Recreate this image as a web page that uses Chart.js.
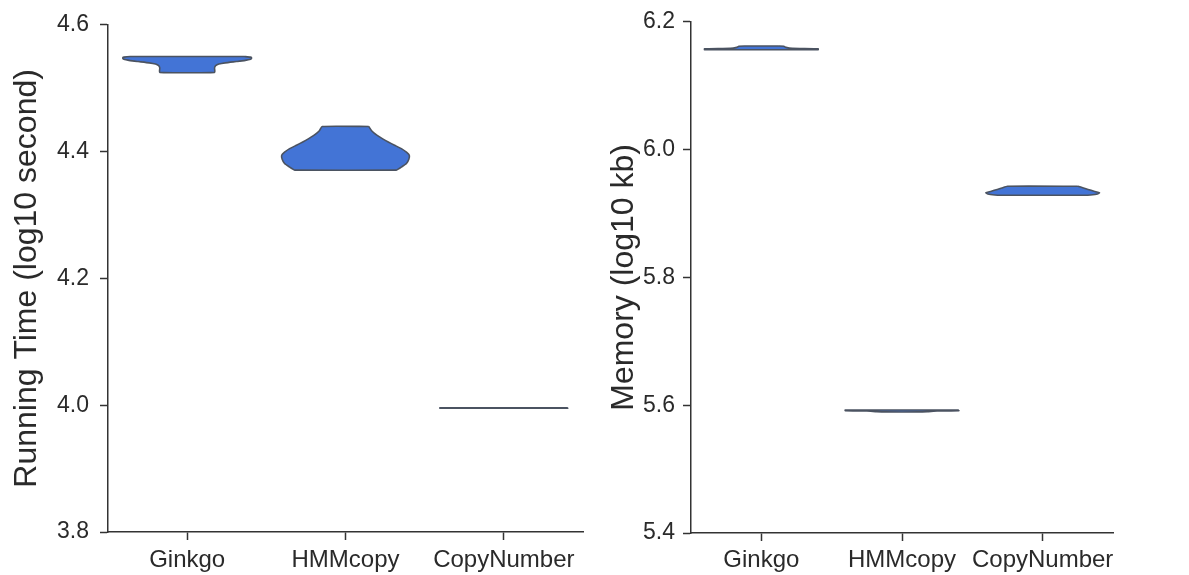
<!DOCTYPE html>
<html><head><meta charset="utf-8">
<script src="https://cdn.jsdelivr.net/npm/chart.js@4.4.0/dist/chart.umd.min.js"></script>
<style>
html,body{margin:0;padding:0;background:#fff;}
#wrap{position:relative;width:1189px;height:575px;overflow:hidden;}
.panel{position:absolute;top:0;height:575px;}
#p1{left:0;width:595px;}
#p2{left:595px;width:594px;}
</style></head><body>
<div id="wrap"><div class="panel" id="p1"><canvas id="c1" width="595" height="575"></canvas></div><div class="panel" id="p2"><canvas id="c2" width="594" height="575"></canvas></div></div>
<script>
const categories = ['Ginkgo', 'HMMcopy', 'CopyNumber'];
const timeTicks = [3.8, 4.0, 4.2, 4.4, 4.6];
const memoryTicks = [5.4, 5.6, 5.8, 6.0, 6.2];

// Violin outlines, top to bottom: [value, half-width in category units]
const timeGinkgo = [[4.5500,0.36],[4.5490,0.40],[4.5478,0.407],[4.5455,0.40],[4.5435,0.36],[4.5420,0.31],[4.5400,0.24],[4.5380,0.20],[4.5355,0.180],[4.5320,0.173],[4.5250,0.173]];
const timeHMMcopy = [[4.4396,0.147],[4.4330,0.165],[4.4255,0.20],[4.4200,0.235],[4.4151,0.27],[4.4100,0.31],[4.4047,0.353],[4.3990,0.385],[4.3943,0.403],[4.3880,0.40],[4.3813,0.385],[4.3760,0.355],[4.3720,0.33],[4.3708,0.32]];
const timeCopyNumber = [[3.9960,0.404],[3.9952,0.404]];

const memGinkgo = [[6.1622,0.12],[6.1618,0.16],[6.1600,0.175],[6.1585,0.22],[6.1578,0.404],[6.1564,0.404]];
const memHMMcopy = [[5.5925,0.404],[5.5915,0.404],[5.5910,0.25],[5.5900,0.18],[5.5895,0.12]];
const memCopyNumber = [[5.9427,0.25],[5.9400,0.29],[5.9370,0.33],[5.9345,0.37],[5.9325,0.404],[5.9305,0.39],[5.9290,0.34],[5.9285,0.30]];

const FILL = '#4374D6';
const EDGE = '#4B5361';
const AXIS = '#333333';
const TEXT = '#2a2a2a';
const FONT = '"Liberation Sans", Arial, sans-serif';

function outline(profile, idx) {
  const pts = [];
  profile.forEach(([v, w]) => pts.push({x: idx + w, y: v}));
  for (let k = profile.length - 1; k >= 0; k--) pts.push({x: idx - profile[k][1], y: profile[k][0]});
  pts.push({x: idx + profile[0][1], y: profile[0][0]});
  return pts;
}

function violinSets(profiles) {
  return profiles.map((p, i) => ({
    data: outline(p, i),
    showLine: true,
    fill: 'shape',
    backgroundColor: FILL,
    borderColor: EDGE,
    borderWidth: 1.6,
    pointRadius: 0,
    tension: 0.15
  }));
}

function makeChart(id, profiles, ticks, title, cfg) {
  return new Chart(document.getElementById(id), {
    type: 'scatter',
    data: {datasets: violinSets(profiles)},
    options: {
      responsive: false,
      animation: false,
      devicePixelRatio: 1,
      layout: {padding: {top: cfg.top, right: cfg.right, bottom: 0, left: 0}},
      plugins: {legend: {display: false}, tooltip: {enabled: false}},
      scales: {
        x: {
          type: 'linear', min: -0.5, max: 2.5,
          afterBuildTicks: s => { s.ticks = categories.map((c, i) => ({value: i})); },
          afterFit: s => { s.height = cfg.xh; },
          ticks: {callback: v => categories[v], font: {family: FONT, size: 24}, color: TEXT, padding: cfg.xpad, maxRotation: 0, autoSkip: false},
          grid: {display: true, drawOnChartArea: false, drawTicks: true, tickLength: 8, tickWidth: 1.5, tickColor: AXIS},
          border: {display: true, color: AXIS, width: 1.5}
        },
        y: {
          type: 'linear', min: ticks[0], max: ticks[ticks.length - 1],
          afterBuildTicks: s => { s.ticks = ticks.map(t => ({value: t})); },
          afterFit: s => { s.width = cfg.yw; },
          ticks: {callback: v => v.toFixed(1), font: {family: FONT, size: 23}, color: TEXT, padding: cfg.ypad},
          grid: {display: true, drawOnChartArea: false, drawTicks: true, tickLength: 8, tickWidth: 1.5, tickColor: AXIS},
          border: {display: true, color: AXIS, width: 1.5},
          title: {display: true, text: title, font: {family: FONT, size: 32}, color: TEXT, padding: {top: cfg.tpad, bottom: 0}}
        }
      }
    }
  });
}

makeChart('c1', [timeGinkgo, timeHMMcopy, timeCopyNumber], timeTicks, 'Running Time (log10 second)',
  {top: 20, right: 12, xh: 43, yw: 108, xpad: 6, ypad: 11, tpad: 8});
makeChart('c2', [memGinkgo, memHMMcopy, memCopyNumber], memoryTicks, 'Memory (log10 kb)',
  {top: 21, right: 76, xh: 42, yw: 96, xpad: 5, ypad: 8, tpad: 10});
</script>
</body></html>
